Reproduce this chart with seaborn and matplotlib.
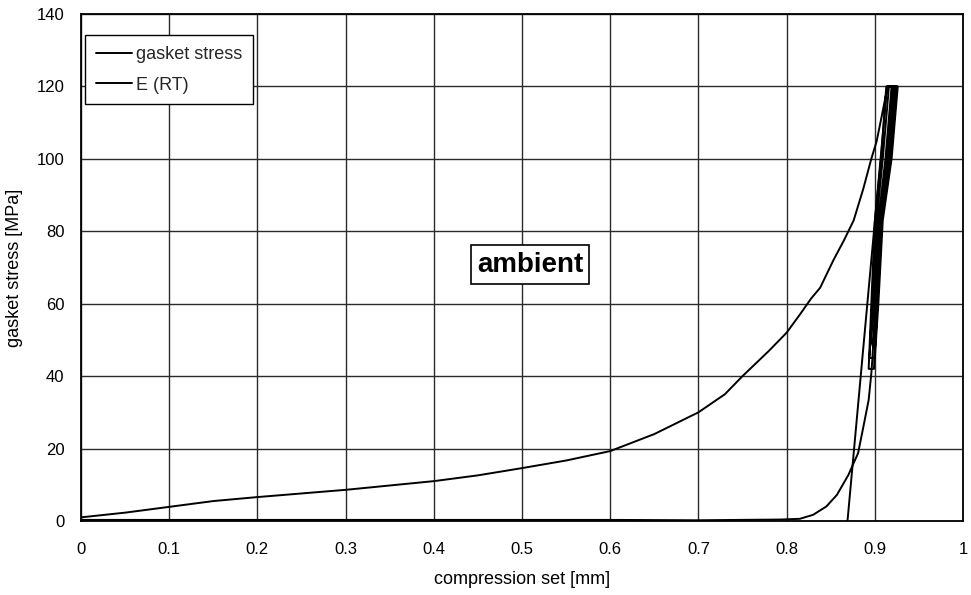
import matplotlib
matplotlib.use("Agg")
import matplotlib.pyplot as plt
import seaborn as sns
import pandas as pd

# ---- data ----
# loading curve of gasket stress
load_x = [0.0, 0.05, 0.1, 0.15, 0.2, 0.25, 0.3, 0.35, 0.4, 0.45, 0.5, 0.55, 0.6, 0.65,
          0.7, 0.73, 0.75, 0.78, 0.8, 0.815, 0.828, 0.838, 0.853, 0.865, 0.876,
          0.887, 0.896, 0.902, 0.908, 0.912, 0.915]
load_y = [1.0, 2.3, 3.9, 5.5, 6.6, 7.6, 8.6, 9.8, 11.0, 12.6, 14.6, 16.7, 19.3, 24.0,
          30.0, 35.0, 40.0, 47.0, 52.0, 57.0, 61.5, 64.4, 72.0, 77.5, 83.0,
          91.8, 100.0, 104.8, 112.0, 117.0, 120.0]
# unload / reload cycles at the top (thick band)
cyc_x = [0.926, 0.919, 0.909, 0.904, 0.900,
         0.894, 0.897, 0.902, 0.909, 0.916,
         0.923, 0.916, 0.906, 0.902, 0.898,
         0.896, 0.899, 0.904, 0.912, 0.919,
         0.925, 0.918, 0.908, 0.903, 0.899,
         0.893, 0.896, 0.900, 0.907, 0.913,
         0.921, 0.914, 0.905, 0.901, 0.897]
cyc_y = [120.0, 100.0, 83.0, 60.0, 45.0,
         45.0, 60.0, 83.0, 100.0, 120.0,
         120.0, 100.0, 83.0, 60.0, 48.0,
         50.0, 60.0, 83.0, 100.0, 120.0,
         120.0, 100.0, 83.0, 60.0, 42.0,
         42.0, 60.0, 83.0, 100.0, 120.0,
         120.0, 100.0, 83.0, 60.0, 44.0]
# final unloading down to zero and return along the axis
unload_x = [0.896, 0.893, 0.887, 0.881, 0.876, 0.870, 0.857, 0.845, 0.830,
            0.815, 0.793, 0.7, 0.6, 0.4, 0.2, 0.0]
unload_y = [40.7, 33.4, 26.0, 18.7, 16.0, 12.7, 7.2, 4.0, 1.7,
            0.6, 0.4, 0.2, 0.3, 0.3, 0.3, 0.3]
# E (RT) straight line
e_x = [0.869, 0.914]
e_y = [0.0, 120.0]

x_ticks = [0, 0.1, 0.2, 0.3, 0.4, 0.5, 0.6, 0.7, 0.8, 0.9, 1.0]
x_labels = ["0", "0.1", "0.2", "0.3", "0.4", "0.5", "0.6", "0.7", "0.8", "0.9", "1"]
y_ticks = [0, 20, 40, 60, 80, 100, 120, 140]

gx = load_x + cyc_x + unload_x
gy = load_y + cyc_y + unload_y
df = pd.DataFrame({
    "x": gx + e_x,
    "y": gy + e_y,
    "series": ["gasket stress"] * len(gx) + ["E (RT)"] * len(e_x),
})

sns.set_theme(style="white")
plt.rcParams["font.family"] = ["Liberation Sans", "DejaVu Sans"]

fig = plt.figure(figsize=(9.71, 5.95), dpi=100)
ax = fig.add_axes([0.0834, 0.1244, 0.9084, 0.8521])

sns.lineplot(data=df, x="x", y="y", hue="series", units="series", estimator=None,
             sort=False, palette={"gasket stress": "black", "E (RT)": "black"},
             linewidth=1.4, ax=ax, legend=True)

ax.set_xlim(0, 1)
ax.set_ylim(0, 140)
ax.set_xticks(x_ticks)
ax.set_xticklabels(x_labels, fontsize=12)
ax.set_yticks(y_ticks)
ax.set_yticklabels([str(v) for v in y_ticks], fontsize=12)
ax.grid(True, color="#2a2a2a", linewidth=1.0)
ax.set_axisbelow(True)
for s in ax.spines.values():
    s.set_color("black")
    s.set_linewidth(1.3)
ax.tick_params(axis="x", length=4, color="black", direction="out", pad=11, colors="black")
ax.tick_params(axis="y", length=4, color="black", direction="out", pad=8, colors="black")
ax.set_xlabel("compression set [mm]", fontsize=13, color="black", labelpad=10)
ax.set_ylabel("gasket stress [MPa]", fontsize=13, color="black", labelpad=10)

leg = ax.legend(loc="upper left", bbox_to_anchor=(0.0045, 0.958), fontsize=13,
                frameon=True, fancybox=False, edgecolor="black", framealpha=1,
                handlelength=2.0, borderpad=0.6, labelspacing=0.75, handletextpad=0.2,
                borderaxespad=0.0)
leg.get_frame().set_linewidth(1.0)

ax.text(0.509, 70.8, "ambient", fontsize=20, fontweight="bold", ha="center", va="center",
        color="black",
        bbox=dict(boxstyle="square,pad=0.22", facecolor="white", edgecolor="black", linewidth=1.2))

fig.savefig("out.png", dpi=100)
